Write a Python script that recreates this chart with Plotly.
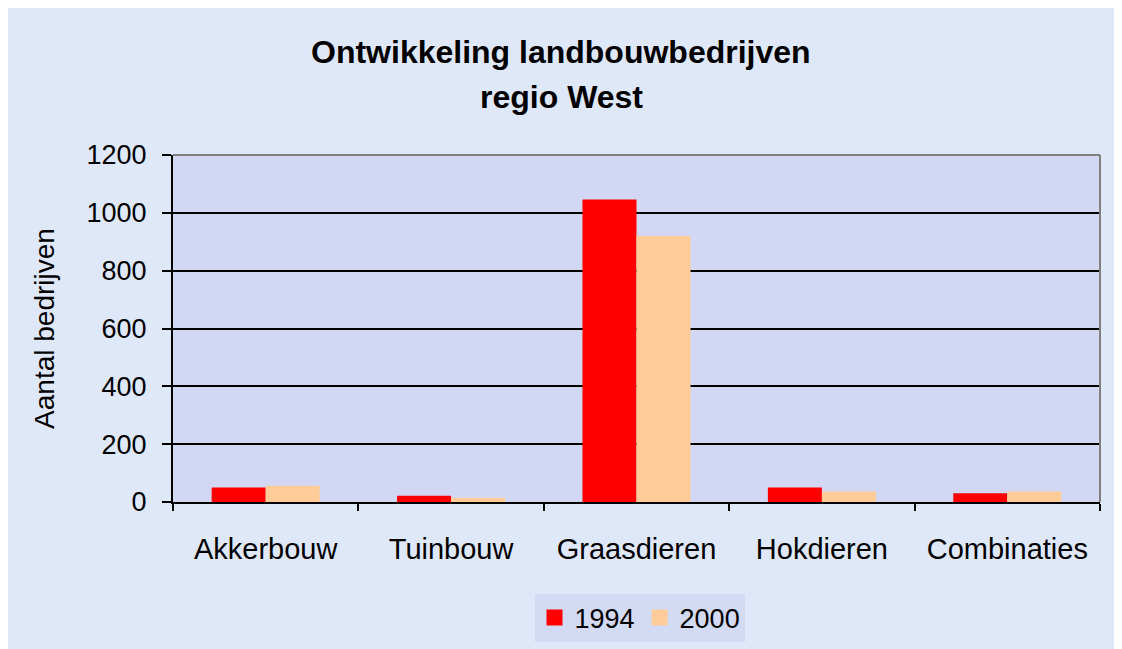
import plotly.graph_objects as go

categories = ["Akkerbouw", "Tuinbouw", "Graasdieren", "Hokdieren", "Combinaties"]
series_names = ["1994", "2000"]
series_colors = ["#FF0000", "#FFCC99"]
values_1994 = [50, 22, 1046, 50, 30]
values_2000 = [56, 15, 920, 36, 36]
y_ticks = [0, 200, 400, 600, 800, 1000, 1200]
title_lines = ["Ontwikkeling landbouwbedrijven", "regio West"]

FONT = "Liberation Sans, Arial, sans-serif"
OFF = 8  # page body margin
# figure extends past the viewport on right/bottom (like the reference)
W, H = 1122 + OFF, 649 + OFF
L, R, T, B = 165, 30 + OFF, 147, 155 + OFF
pw, ph = W - L - R, H - T - B

def px_to_paper_x(px):
    return (px - OFF - L) / pw

def px_to_paper_y(py):
    return (H - B - (py - OFF)) / ph

fig = go.Figure()
for name, vals, col in zip(series_names, [values_1994, values_2000], series_colors):
    fig.add_trace(go.Bar(name=name, x=categories, y=vals, showlegend=False,
                         marker=dict(color=col, line=dict(width=0))))
for name, col in zip(series_names, series_colors):
    fig.add_trace(go.Scatter(name=name, x=[None], y=[None], mode="markers",
                             marker=dict(symbol="square", size=19, color=col),
                             showlegend=True, hoverinfo="skip"))

shapes = [
    dict(type="rect", xref="paper", yref="paper", layer="below",
         x0=0, x1=1, y0=0, y1=1, fillcolor="#d2d8f4", line=dict(width=0)),
    dict(type="rect", xref="paper", yref="paper", layer="below",
         x0=px_to_paper_x(535), x1=px_to_paper_x(745),
         y0=px_to_paper_y(642), y1=px_to_paper_y(594),
         fillcolor="#d3daf3", line=dict(width=0)),
    dict(type="line", xref="paper", yref="paper", layer="above",
         x0=0, x1=1, y0=1, y1=1, line=dict(color="#808080", width=2)),
    dict(type="line", xref="paper", yref="paper", layer="above",
         x0=1, x1=1, y0=0, y1=1, line=dict(color="#808080", width=2)),
]

annotations = [
    dict(text="<b>%s</b>" % line, xref="paper", yref="paper",
         x=px_to_paper_x(561), y=px_to_paper_y(cy), xanchor="center", yanchor="middle",
         showarrow=False, font=dict(family=FONT, size=32, color="black"))
    for line, cy in zip(title_lines, [52, 97])
]

fig.update_layout(
    width=W, height=H,
    margin=dict(l=L, r=R, t=T, b=B, autoexpand=False),
    paper_bgcolor="#dfe8f8",
    plot_bgcolor="rgba(0,0,0,0)",
    font=dict(family=FONT, color="black", size=27),
    barmode="group",
    bargap=0.417,
    bargroupgap=0,
    showlegend=True,
    legend=dict(orientation="h", x=px_to_paper_x(640), y=px_to_paper_y(618),
                xanchor="center", yanchor="middle",
                bgcolor="rgba(0,0,0,0)", borderwidth=0,
                font=dict(family=FONT, size=27, color="black"),
                itemsizing="trace", itemwidth=30, traceorder="normal"),
    shapes=shapes,
    annotations=annotations,
)

fig.update_xaxes(
    showline=True, linecolor="black", linewidth=2,
    ticks="outside", tickson="boundaries", ticklen=7, tickwidth=2, tickcolor="black",
    tickfont=dict(family=FONT, size=29, color="black"),
    ticklabelstandoff=20,
    showgrid=False, zeroline=False,
)
fig.update_yaxes(
    range=[0, 1200], tickvals=y_ticks, ticktext=[str(v) for v in y_ticks],
    showline=True, linecolor="black", linewidth=2,
    ticks="outside", ticklen=9, tickwidth=2, tickcolor="black",
    tickfont=dict(family=FONT, size=27, color="black"),
    ticklabelstandoff=10,
    showgrid=True, gridcolor="black", gridwidth=2,
    zeroline=False,
    title=dict(text="Aantal bedrijven", standoff=24,
               font=dict(family=FONT, size=28, color="black")),
)

fig.write_html(
    "out.html",
    post_script="document.documentElement.style.overflow='hidden';"
                "document.body.style.overflow='hidden';",
)
